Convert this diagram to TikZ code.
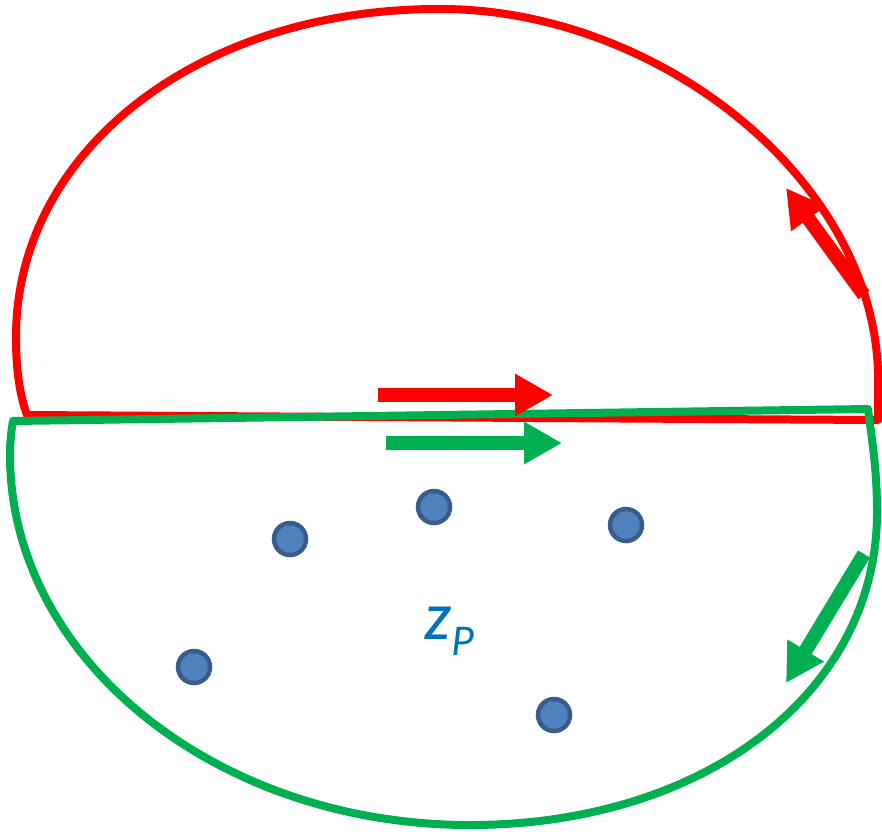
\documentclass[tikz,border=0pt]{standalone}
\usepackage{fontspec}
\newfontfamily\labfont{Carlito}
\usetikzlibrary{arrows.meta}
\definecolor{myred}{HTML}{FF0000}
\definecolor{mygreen}{HTML}{00B050}
\definecolor{dotfill}{HTML}{4F81BD}
\definecolor{dotline}{HTML}{385D8A}
\definecolor{labblue}{HTML}{0070C0}
\begin{document}
\begin{tikzpicture}[x=1pt,y=-1pt,
  outline/.style={line width=8pt, line join=round},
  blockarrow/.style={line width=14pt, -{Triangle[length=38pt,width=40pt]}},
  dot/.style={circle, minimum size=32pt, inner sep=0pt, fill=dotfill, draw=dotline, line width=4.5pt}]
\useasboundingbox (0,0) rectangle (882,831);
% red upper region
\draw[outline, myred] (27,415) .. controls (18,390) and (16,362) .. (16,337)
  .. controls (16,150) and (200,8) .. (441,9)
  .. controls (660,9) and (885,185) .. (878,390)
  -- (878,420) -- cycle;
% green lower region
\draw[outline, mygreen] (868,409) -- (13,421)
  .. controls (11,432) and (10,444) .. (10,455)
  .. controls (10,659) and (216,825) .. (470,825)
  .. controls (705,825) and (878,692) .. (877,511)
  .. controls (877,470) and (872,440) .. cycle;
% arrows
\coordinate (ra1) at (378,395); \coordinate (ra2) at (553,395);
\coordinate (ga1) at (386,443); \coordinate (ga2) at (562,443);
\coordinate (rd1) at (864,295); \coordinate (rd2) at (786,188);
\coordinate (gd1) at (864,554); \coordinate (gd2) at (786,683);
\draw[blockarrow, myred] (ra1) -- (ra2);
\draw[blockarrow, mygreen] (ga1) -- (ga2);
\draw[blockarrow, myred] (rd1) -- (rd2);
\draw[blockarrow, mygreen] (gd1) -- (gd2);
% points
\node[dot] (d1) at (290,539) {};
\node[dot] (d2) at (434,507) {};
\node[dot] (d3) at (626,525) {};
\node[dot] (d4) at (194,667) {};
\node[dot] (d5) at (554,715) {};
% label
\node[anchor=base west, inner sep=0pt, text=labblue] (lab) at (424,639)
  {\labfont\itshape\fontsize{68}{68}\selectfont z\raisebox{-16pt}{\fontsize{44}{44}\selectfont P}};
\end{tikzpicture}
\end{document}
